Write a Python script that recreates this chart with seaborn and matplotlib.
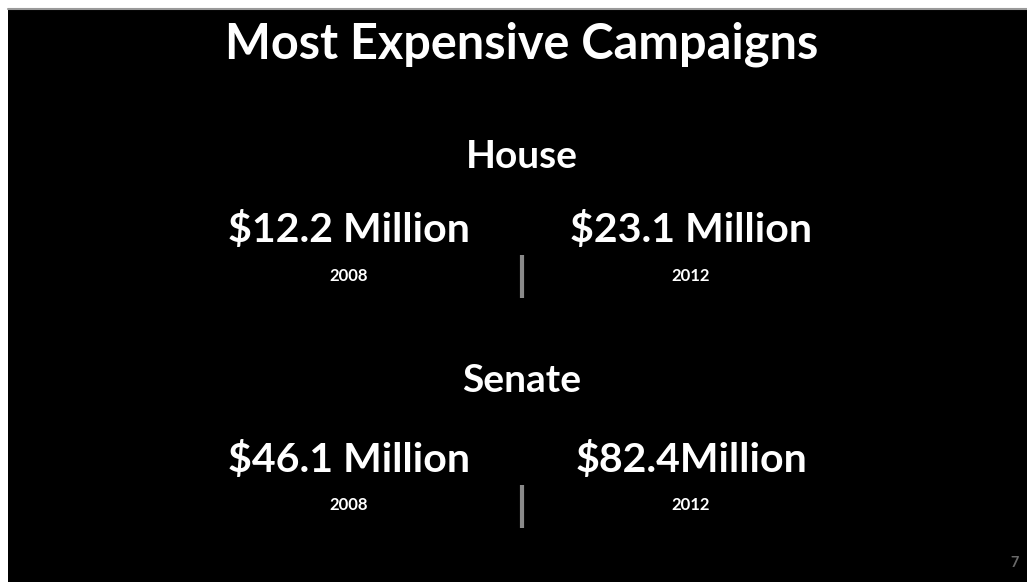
import matplotlib
matplotlib.use("Agg")
import matplotlib.pyplot as plt
import seaborn as sns

# Slide content
title = "Most Expensive Campaigns"
chambers = ["House", "Senate"]
amount_labels = [["$12.2 Million", "$23.1 Million"],
                 ["$46.1 Million", "$82.4Million"]]
years = ["2008", "2012"]
page_number = "7"

sns.set_theme(style="white")
plt.rcParams["font.family"] = ["Lato", "DejaVu Sans"]

W, H = 1027, 582
fig = plt.figure(figsize=(W / 100, H / 100), dpi=100)
fig.patch.set_facecolor("white")
ax = fig.add_axes([0, 0, 1, 1])
ax.set_xlim(0, W)
ax.set_ylim(H, 0)
ax.axis("off")

# black slide area with thin grey edge
ax.add_patch(plt.Rectangle((8, 8), W - 8, H - 8, facecolor="black",
                           edgecolor="none", zorder=0))
ax.plot([8, W], [8.5, 8.5], color="#9a9a9a", lw=1.5, zorder=1)

ax.text(522, 44, title, color="white", fontsize=35, fontweight="bold",
        ha="center", va="center", parse_math=False)

section_y = [157, 380]
amount_y = [230, 460]
year_y = [276, 505]
col_x = [349, 691]
div_x = 522

for i, name in enumerate(chambers):
    ax.text(div_x, section_y[i], name, color="white", fontsize=28,
            fontweight="bold", ha="center", va="center")
    for j in range(2):
        ax.text(col_x[j], amount_y[i], amount_labels[i][j], color="white",
                fontsize=29.5, fontweight="bold", ha="center", va="center",
                parse_math=False)
        ax.text(col_x[j], year_y[i], years[j], color="white", fontsize=12,
                fontweight="bold", ha="center", va="center")
    ax.plot([div_x, div_x], [amount_y[i] + 25, amount_y[i] + 68],
            color="#8a8a8a", lw=3, solid_capstyle="butt")

ax.text(1015, 563, page_number, color="#6a6a6a", fontsize=10.5,
        fontweight="bold", ha="center", va="center")

fig.savefig("out.png", dpi=100, facecolor=fig.get_facecolor())
